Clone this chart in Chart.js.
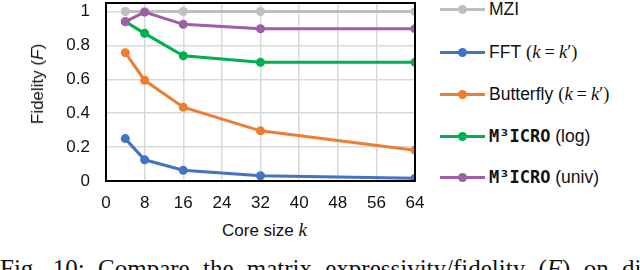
<!DOCTYPE html>
<html>
<head>
<meta charset="utf-8">
<script src="https://cdn.jsdelivr.net/npm/chart.js@4/dist/chart.umd.min.js"></script>
<style>
  html, body { margin: 0; padding: 0; background: #fff; }
  body { width: 640px; height: 270px; position: relative; overflow: hidden; font-family: "Liberation Sans", Arial, sans-serif; color: #111; }
  #wrap { position: absolute; left: 0; top: -20px; width: 430px; height: 235px; }
  .ytitle { position: absolute; left: 38px; top: 84px; transform: translate(-50%, -50%) rotate(-90deg); font-size: 17px; white-space: nowrap; }
  .xtitle { position: absolute; left: 222px; top: 219px; font-size: 17px; white-space: nowrap; line-height: 22px; }
  .mi { font-family: "Liberation Serif", serif; font-style: italic; font-size: 19px; }
  .legend { position: absolute; left: 440px; top: 0; }
  .row { position: absolute; left: 0; height: 24px; display: flex; align-items: center; white-space: nowrap; font-size: 17.5px; }
  .swatch { position: relative; width: 45px; height: 24px; margin-right: 4px; }
  .swatch .ln { position: absolute; left: 0; top: 10.5px; width: 45px; height: 3px; }
  .swatch .pt { position: absolute; left: 17.5px; top: 7.5px; width: 9px; height: 9px; border-radius: 50%; }
  .mono { font-family: "DejaVu Sans Mono", monospace; font-weight: bold; font-size: 17px; }
  .math { font-family: "Liberation Serif", serif; font-size: 18.5px; margin-left: 5px; }
  .math i { font-style: italic; }
  .math .eq { margin: 0 4px; }
  .caption { position: absolute; left: 0; top: 256px; width: 640px; font-family: "Liberation Serif", serif; font-size: 25px; line-height: 25px; white-space: nowrap; overflow: hidden; word-spacing: 7px; color: #111; }
</style>
</head>
<body>
<div id="wrap"><canvas id="c" width="430" height="235"></canvas></div>
<div class="ytitle">Fidelity (<span style="font-style:italic">F</span>)</div>
<div class="xtitle">Core size <span class="mi">k</span></div>
<div class="legend" id="legend"></div>
<div class="caption">Fig. 10: Compare the matrix expressivity/fidelity (<i>F</i>) on di</div>
<script>
// ---- data ----
const coreSizes = [4, 8, 16, 32, 64];
const mziValues = [1, 1, 1, 1, 1];
const fftValues = [0.25, 0.125, 0.063, 0.031, 0.016];
const butterflyValues = [0.757, 0.594, 0.435, 0.296, 0.182];
const m3logValues = [0.94, 0.871, 0.739, 0.70, 0.70];
const m3univValues = [0.94, 0.996, 0.924, 0.898, 0.898];
const xTicks = [0, 8, 16, 24, 32, 40, 48, 56, 64];
const yTicks = [0, 0.2, 0.4, 0.6, 0.8, 1];

const colors = {
  mzi: '#bfbfbf',
  fft: '#4472c4',
  butterfly: '#ed7d31',
  log: '#00b050',
  univ: '#9e5ea8'
};

function pts(vals) { return coreSizes.map((k, i) => ({ x: k, y: vals[i] })); }
function ds(label, vals, color, order) {
  return {
    label, data: pts(vals), borderColor: color, backgroundColor: color,
    borderWidth: 3, pointRadius: 4.5, pointHoverRadius: 4.5, pointBorderWidth: 0,
    tension: 0, order
  };
}

const borderPlugin = {
  id: 'plotBorder',
  afterDraw(chart) {
    const a = chart.chartArea, ctx = chart.ctx;
    ctx.save();
    ctx.strokeStyle = '#000';
    ctx.lineWidth = 2;
    ctx.strokeRect(a.left, a.top, a.right - a.left, a.bottom - a.top);
    ctx.restore();
  }
};

new Chart(document.getElementById('c'), {
  type: 'line',
  data: {
    datasets: [
      ds('MZI', mziValues, colors.mzi, 5),
      ds('FFT', fftValues, colors.fft, 4),
      ds('Butterfly', butterflyValues, colors.butterfly, 3),
      ds('M3ICRO (log)', m3logValues, colors.log, 2),
      ds('M3ICRO (univ)', m3univValues, colors.univ, 1)
    ]
  },
  options: {
    responsive: false,
    animation: false,
    devicePixelRatio: 1,
    layout: { padding: { top: 23, right: 15, left: 0, bottom: 0 } },
    plugins: { legend: { display: false }, tooltip: { enabled: false } },
    scales: {
      x: {
        type: 'linear', min: 0, max: 64,
        afterBuildTicks(s) { s.ticks = xTicks.map(v => ({ value: v })); },
        afterFit(s) { s.height = 34; s.paddingLeft = 0; s.paddingRight = 0; },
        grid: { color: '#d9d9d9', lineWidth: 1.5, drawTicks: false },
        border: { display: false },
        ticks: { color: '#111', font: { family: 'Liberation Sans', size: 17 }, padding: 12, maxRotation: 0 }
      },
      y: {
        type: 'linear', min: 0, max: 1.05,
        afterBuildTicks(s) { s.ticks = yTicks.map(v => ({ value: v })); },
        afterFit(s) { s.width = 106; s.paddingTop = 0; s.paddingBottom = 0; },
        grid: { color: '#d9d9d9', lineWidth: 1.5, drawTicks: false },
        border: { display: false },
        ticks: {
          color: '#111', font: { family: 'Liberation Sans', size: 17 }, padding: 16,
          callback: v => String(parseFloat(Number(v).toFixed(2)))
        }
      }
    }
  },
  plugins: [borderPlugin]
});

// ---- legend ----
const mathK = '<span class="math">(<i>k</i><span class="eq">=</span><i>k</i>′)</span>';
const legendRows = [
  { color: colors.mzi, html: 'MZI', y: 9 },
  { color: colors.fft, html: 'FFT' + mathK, y: 52 },
  { color: colors.butterfly, html: 'Butterfly' + mathK, y: 94 },
  { color: colors.log, html: '<span class="mono">M³ICRO</span>&nbsp;(log)', y: 136 },
  { color: colors.univ, html: '<span class="mono">M³ICRO</span>&nbsp;(univ)', y: 177 }
];
const leg = document.getElementById('legend');
legendRows.forEach(r => {
  const row = document.createElement('div');
  row.className = 'row';
  row.style.top = (r.y - 12) + 'px';
  row.innerHTML = '<div class="swatch"><div class="ln" style="background:' + r.color + '"></div><div class="pt" style="background:' + r.color + '"></div></div><div>' + r.html + '</div>';
  leg.appendChild(row);
});
</script>
</body>
</html>
